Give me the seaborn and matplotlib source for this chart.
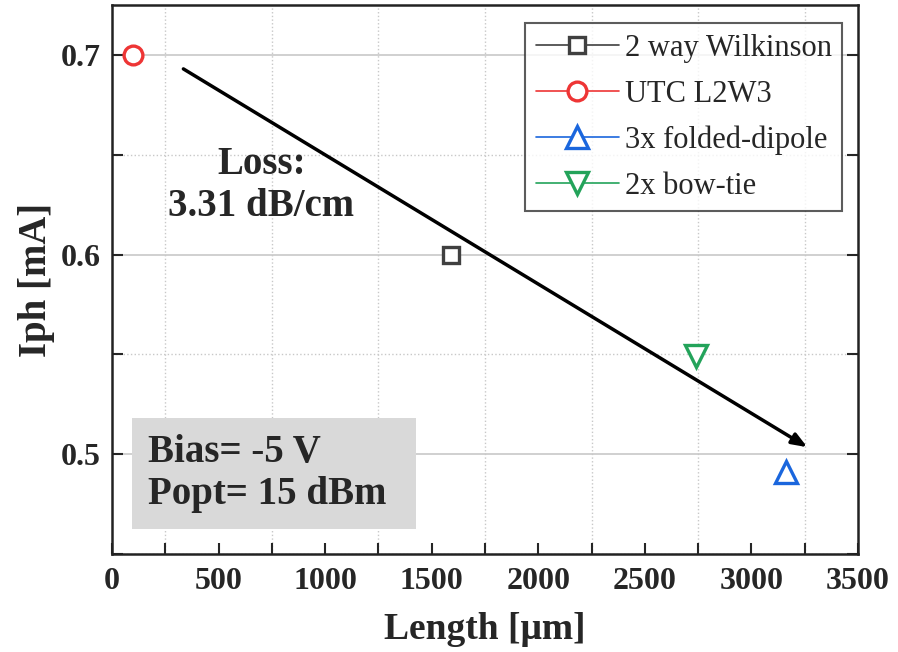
import numpy as np
import pandas as pd
import matplotlib
matplotlib.use("Agg")
import matplotlib.pyplot as plt
from matplotlib.patches import Rectangle
from matplotlib.ticker import MultipleLocator
import seaborn as sns

# data
devices = ["2 way Wilkinson", "UTC L2W3", "3x folded-dipole", "2x bow-tie"]
lengths = [1590, 100, 3162, 2742]          # um
iph = [0.600, 0.700, 0.491, 0.549]         # mA
markers = ["s", "o", "^", "v"]
msizes = [11.5, 13.5, 16, 16]
colors = ["#404040", "#ee3535", "#1a66dd", "#23a35a"]

# fitted loss arrow (start, end)
arrow_x = [335, 3262]
arrow_y = [0.693, 0.5035]

df = pd.DataFrame({"device": devices, "length": lengths, "iph": iph})

sns.set_style("white")
plt.rcParams["font.family"] = ["Liberation Serif", "DejaVu Serif"]
plt.rcParams["font.weight"] = "bold"

fig = plt.figure(figsize=(8.98, 6.52), dpi=100)
ax = fig.add_axes([0.1247, 0.1503, 0.8308, 0.842])

for dev, m, ms, c in zip(devices, markers, msizes, colors):
    sub = df[df["device"] == dev]
    sns.lineplot(data=sub, x="length", y="iph", ax=ax, color=c, marker=m,
                 markersize=ms, markerfacecolor="white", markeredgecolor=c,
                 markeredgewidth=2.4, linewidth=1.2, label=dev)

ax.annotate("", xy=(arrow_x[1], arrow_y[1]), xytext=(arrow_x[0], arrow_y[0]),
            arrowprops=dict(arrowstyle="-|>,head_length=0.9,head_width=0.35",
                            color="black", lw=2.5, shrinkA=0, shrinkB=0))

ax.text(700, 0.6345, "Loss:\n3.31 dB/cm", ha="center", va="center",
        fontsize=28, fontweight="bold", linespacing=1.2)

# grey info box
ax.add_patch(Rectangle((0.0268, 0.0455), 0.3807, 0.2018, transform=ax.transAxes,
                       facecolor="#d9d9d9", edgecolor="none", zorder=1))
ax.text(0.0483, 0.1464, "Bias= -5 V\nPopt= 15 dBm", transform=ax.transAxes,
        ha="left", va="center", fontsize=28, fontweight="bold",
        linespacing=1.2, zorder=2)

ax.set_xlim(0, 3500)
ax.set_ylim(0.45, 0.725)
ax.xaxis.set_major_locator(MultipleLocator(500))
ax.xaxis.set_minor_locator(MultipleLocator(250))
ax.yaxis.set_major_locator(MultipleLocator(0.1))
ax.yaxis.set_minor_locator(MultipleLocator(0.05))

ax.grid(False)
ax.grid(which="major", axis="y", color="#c8c8c8", lw=1.2, ls="-")
ax.grid(which="minor", axis="both", color="#c8c8c8", lw=1.0, ls=":")
ax.set_axisbelow(True)

ax.tick_params(which="both", direction="in", bottom=True, left=True,
               right=True, top=False, labelsize=23, width=1.5, length=8)
ax.tick_params(axis="x", which="both", pad=9)
ax.tick_params(axis="y", which="both", pad=8)
ax.set_yticks([0.5, 0.6, 0.7])
ax.set_yticklabels(["0.5", "0.6", "0.7"])
for lab in ax.get_xticklabels() + ax.get_yticklabels():
    lab.set_fontweight("bold")

for s in ax.spines.values():
    s.set_color("#222222")
    s.set_linewidth(1.8)

ax.set_xlabel("Length [\u03bcm]", fontsize=27, fontweight="bold", labelpad=12)
ax.set_ylabel("Iph [mA]", fontsize=28, fontweight="bold", labelpad=4)

leg = ax.legend(loc="upper right", bbox_to_anchor=(0.979, 0.967), fontsize=22,
                frameon=True, fancybox=False, edgecolor="#333333",
                handlelength=2.7, borderpad=0.35, labelspacing=0.55,
                handletextpad=0.2, borderaxespad=0)
leg.get_frame().set_linewidth(1.5)
for t in leg.get_texts():
    t.set_fontweight("normal")

fig.savefig("out.png", dpi=100)
